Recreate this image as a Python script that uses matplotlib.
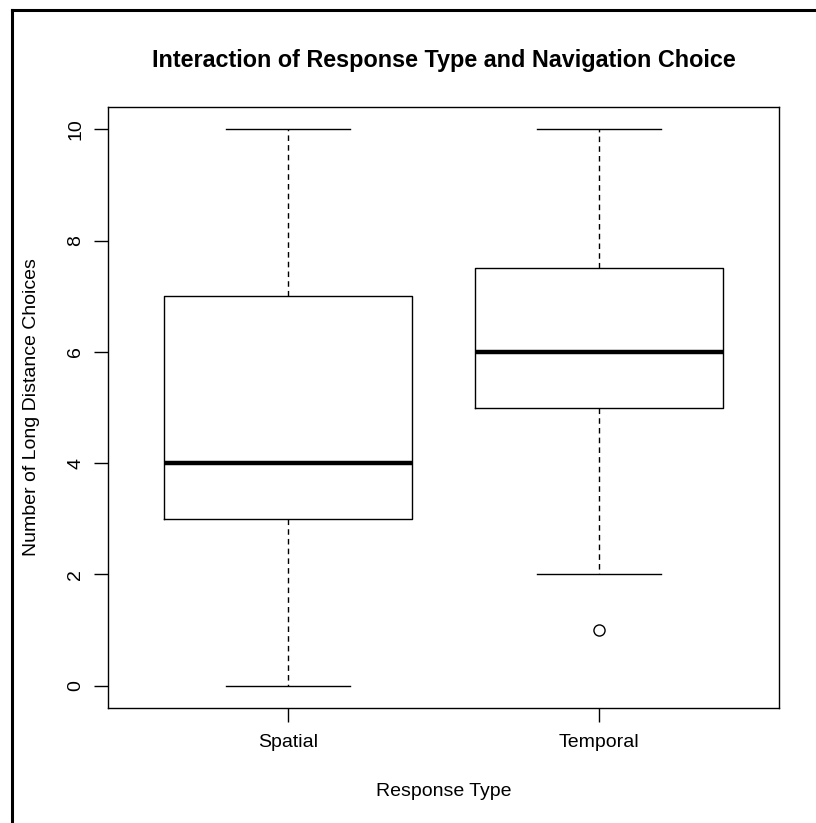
import matplotlib
matplotlib.use("Agg")
import matplotlib.pyplot as plt
from matplotlib.lines import Line2D

plt.rcParams['font.family'] = ['Liberation Sans', 'DejaVu Sans']

# five-number summaries
groups      = ["Spatial", "Temporal"]
whisk_lo    = [0, 2]
q1          = [3, 5]
medians     = [4, 6]
q3          = [7, 7.5]
whisk_hi    = [10, 10]
outliers    = [[], [1]]
yticks      = [0, 2, 4, 6, 8, 10]

stats = []
for i, g in enumerate(groups):
    stats.append(dict(label=g, whislo=whisk_lo[i], q1=q1[i], med=medians[i],
                      q3=q3[i], whishi=whisk_hi[i], fliers=outliers[i]))

W, H = 816, 823
fig = plt.figure(figsize=(W / 100, H / 100), dpi=100)
ax = fig.add_axes([108 / W, 1 - 708 / H, (779 - 108) / W, (708 - 107) / H])

ax.bxp(stats, positions=[1, 2], widths=0.8, showfliers=True, patch_artist=False,
       boxprops=dict(color="black", linewidth=1),
       medianprops=dict(color="black", linewidth=3.2, solid_capstyle="butt"),
       whiskerprops=dict(color="black", linewidth=1, linestyle=(0, (4, 3))),
       capprops=dict(color="black", linewidth=1),
       capwidths=0.4,
       flierprops=dict(marker="o", markerfacecolor="none", markeredgecolor="black",
                       markersize=8, markeredgewidth=1))

ax.set_xlim(0.42, 2.58)
ax.set_ylim(-0.4, 10.4)
ax.set_yticks(yticks)
ax.set_yticklabels([str(t) for t in yticks], rotation=90, va="center")
ax.set_xticks([1, 2])
ax.set_xticklabels(groups)
ax.tick_params(direction="out", length=10, width=1, labelsize=14, pad=7)
ax.tick_params(axis="x", pad=9)
for s in ax.spines.values():
    s.set_linewidth(1)

ax.set_xlabel("Response Type", fontsize=14, labelpad=23)
ax.set_ylabel("Number of Long Distance Choices", fontsize=14, labelpad=20)
fig.text(444 / W, 1 - 61 / H, "Interaction of Response Type and Navigation Choice",
         ha="center", va="center", fontsize=16.8, fontweight="bold")

# outer frame (left and top edges only, as in the reference)
fig.add_artist(Line2D([12 / W, 12 / W], [0, 1 - 10 / H], color="black", linewidth=2.2,
                      transform=fig.transFigure))
fig.add_artist(Line2D([12 / W, 1], [1 - 10 / H, 1 - 10 / H], color="black", linewidth=2.2,
                      transform=fig.transFigure))

fig.savefig("out.png", dpi=100)
